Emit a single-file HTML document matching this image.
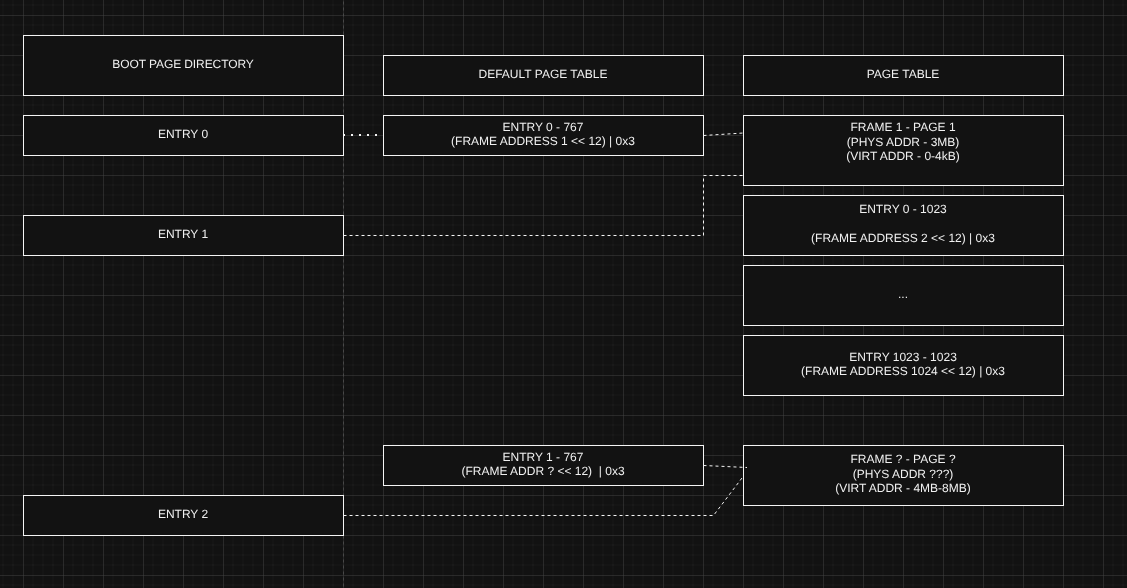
<!DOCTYPE html>
<html><head><meta charset="utf-8"><title>diagram</title>
<style>
html,body{margin:0;padding:0;background:#121212;overflow:hidden;}
body{width:1127px;height:588px;position:relative;font-family:"Liberation Sans",sans-serif;}
svg{position:absolute;left:0;top:0;}
.t{position:absolute;text-rendering:geometricPrecision;will-change:transform;color:#f0f0f0;font-size:12px;line-height:14.4px;text-align:center;white-space:pre;display:flex;align-items:center;justify-content:center;}
</style></head><body>
<svg width="1127" height="588" viewBox="0 0 1127 588">
<defs>
<pattern id="g" width="40" height="40" patternUnits="userSpaceOnUse" x="23" y="15">
<path d="M 0 10 L 40 10 M 0 20 L 40 20 M 0 30 L 40 30" fill="none" stroke="#424242" opacity="0.10" stroke-width="1"/>
<path d="M 10 0 L 10 40 M 20 0 L 20 40 M 30 0 L 30 40" fill="none" stroke="#424242" opacity="0.10" stroke-width="1"/>
<g fill="#424242" opacity="0.02"><rect x="9" y="9" width="2" height="2"/><rect x="9" y="19" width="2" height="2"/><rect x="9" y="29" width="2" height="2"/><rect x="19" y="9" width="2" height="2"/><rect x="19" y="19" width="2" height="2"/><rect x="19" y="29" width="2" height="2"/><rect x="29" y="9" width="2" height="2"/><rect x="29" y="19" width="2" height="2"/><rect x="29" y="29" width="2" height="2"/></g>
<path d="M 40 0 L 0 0 0 40" fill="none" stroke="#424242" stroke-width="1"/>
</pattern>
</defs>
<rect width="1127" height="588" fill="#121212"/>
<rect width="1127" height="588" fill="url(#g)"/>
<path d="M 343.5 -4.5 L 343.5 590" stroke="#484848" stroke-width="1" stroke-dasharray="3 3" fill="none"/>

<rect x="23.5" y="35.5" width="320" height="60" fill="#121212" stroke="#f4f4f4" stroke-width="1"/>
<rect x="23.5" y="115.5" width="320" height="40" fill="#121212" stroke="#f4f4f4" stroke-width="1"/>
<rect x="23.5" y="215.5" width="320" height="40" fill="#121212" stroke="#f4f4f4" stroke-width="1"/>
<rect x="23.5" y="495.5" width="320" height="40" fill="#121212" stroke="#f4f4f4" stroke-width="1"/>
<rect x="383.5" y="55.5" width="320" height="40" fill="#121212" stroke="#f4f4f4" stroke-width="1"/>
<rect x="383.5" y="115.5" width="320" height="40" fill="#121212" stroke="#f4f4f4" stroke-width="1"/>
<rect x="383.5" y="445.5" width="320" height="40" fill="#121212" stroke="#f4f4f4" stroke-width="1"/>
<rect x="743.5" y="55.5" width="320" height="40" fill="#121212" stroke="#f4f4f4" stroke-width="1"/>
<rect x="743.5" y="115.5" width="320" height="70" fill="#121212" stroke="#f4f4f4" stroke-width="1"/>
<rect x="743.5" y="195.5" width="320" height="60" fill="#121212" stroke="#f4f4f4" stroke-width="1"/>
<rect x="743.5" y="265.5" width="320" height="60" fill="#121212" stroke="#f4f4f4" stroke-width="1"/>
<rect x="743.5" y="335.5" width="320" height="60" fill="#121212" stroke="#f4f4f4" stroke-width="1"/>
<rect x="743.5" y="445.5" width="320" height="60" fill="#121212" stroke="#f4f4f4" stroke-width="1"/>
<g fill="none" stroke="#f4f4f4" stroke-width="1" stroke-dasharray="3 3">
<path d="M 703.5 135.5 L 743.5 133"/>
<path d="M 343.5 235.5 L 703.5 235.5 L 703.5 175.5 L 743.5 175.5"/>
<path d="M 703.5 465.5 L 747 467.5"/>
<path d="M 343.5 515.5 L 713.5 515.5 L 743.5 476"/>
</g>
<path d="M 343 135 L 383 135" fill="none" stroke="#f4f4f4" stroke-width="2" stroke-dasharray="2 6"/>
</svg>
<div class="t" style="left:23px;top:34px;width:320px;height:60px;letter-spacing:-0.09px;">BOOT PAGE DIRECTORY</div>
<div class="t" style="left:23px;top:114px;width:320px;height:40px;">ENTRY 0</div>
<div class="t" style="left:23px;top:214px;width:320px;height:40px;">ENTRY 1</div>
<div class="t" style="left:23px;top:494px;width:320px;height:40px;">ENTRY 2</div>
<div class="t" style="left:383px;top:54px;width:320px;height:40px;">DEFAULT PAGE TABLE</div>
<div class="t" style="left:383px;top:114px;width:320px;height:40px;">ENTRY 0 - 767<br>(FRAME ADDRESS 1 &lt;&lt; 12) | 0x3</div>
<div class="t" style="left:383px;top:444px;width:320px;height:40px;">ENTRY 1 - 767<br>(FRAME ADDR ? &lt;&lt; 12)  | 0x3</div>
<div class="t" style="left:743px;top:54px;width:320px;height:40px;">PAGE TABLE</div>
<div class="t" style="left:743px;top:107px;width:320px;height:70px;">FRAME 1 - PAGE 1<br>(PHYS ADDR - 3MB)<br>(VIRT ADDR - 0-4kB)</div>
<div class="t" style="left:743px;top:194px;width:320px;height:60px;">ENTRY 0 - 1023<br><br>(FRAME ADDRESS 2 &lt;&lt; 12) | 0x3</div>
<div class="t" style="left:743px;top:264px;width:320px;height:60px;">...</div>
<div class="t" style="left:743px;top:334px;width:320px;height:60px;">ENTRY 1023 - 1023<br>(FRAME ADDRESS 1024 &lt;&lt; 12) | 0x3</div>
<div class="t" style="left:743px;top:444px;width:320px;height:60px;">FRAME ? - PAGE ?<br>(PHYS ADDR ???)<br>(VIRT ADDR - 4MB-8MB)</div>
</body></html>
